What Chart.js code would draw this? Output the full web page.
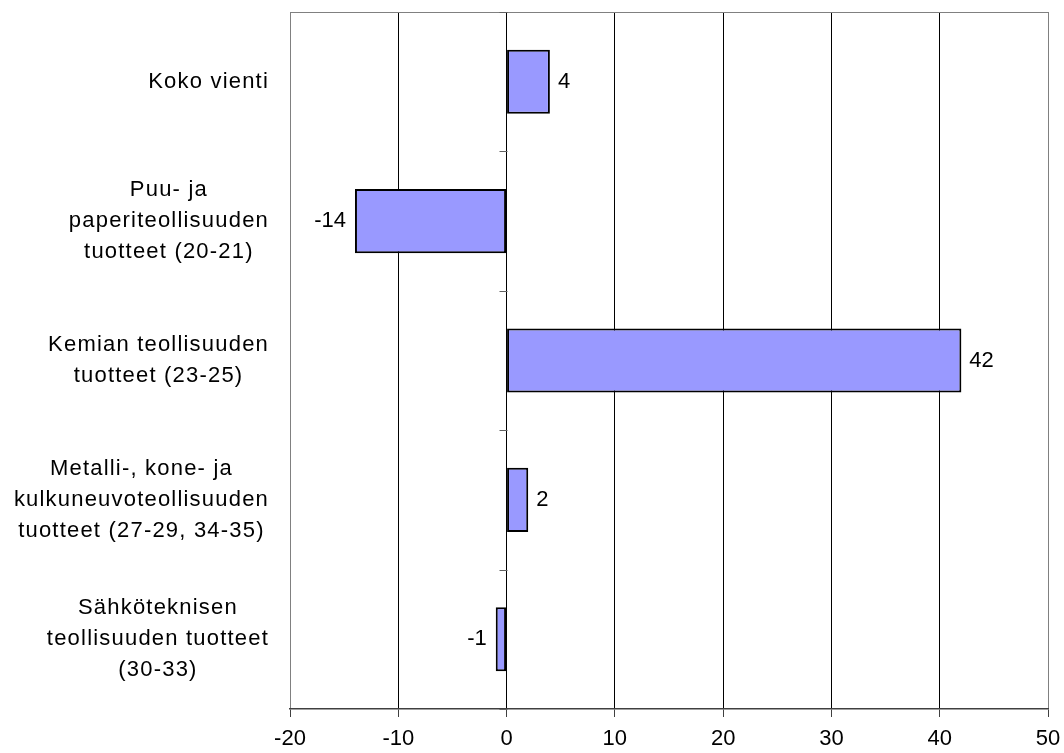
<!DOCTYPE html>
<html>
<head>
<meta charset="utf-8">
<script src="https://cdn.jsdelivr.net/npm/chart.js@4/dist/chart.umd.min.js"></script>
<style>
  html, body { margin: 0; padding: 0; background: #ffffff; }
  #wrap { width: 1064px; height: 753px; }
</style>
</head>
<body>
<div id="wrap"><canvas id="c" width="1064" height="753"></canvas></div>
<script>
const categories = [
  ["Koko vienti"],
  ["Puu- ja", "paperiteollisuuden", "tuotteet (20-21)"],
  ["Kemian teollisuuden", "tuotteet (23-25)"],
  ["Metalli-, kone- ja", "kulkuneuvoteollisuuden", "tuotteet (27-29, 34-35)"],
  ["Sähköteknisen", "teollisuuden tuotteet", "(30-33)"]
];
const values = [4, -14, 42, 2, -1];
const xTicks = [-20, -10, 0, 10, 20, 30, 40, 50];

const FONT = '"Liberation Sans", Arial, sans-serif';
const FONT_SIZE = 22;

const decorPlugin = {
  id: 'decor',
  beforeDatasetsDraw(chart) {
    const ctx = chart.ctx;
    const a = chart.chartArea;
    const xs = chart.scales.x;
    ctx.save();
    ctx.strokeStyle = '#808080';
    ctx.lineWidth = 1;
    ctx.beginPath();
    ctx.moveTo(a.left, a.top + 0.5);
    ctx.lineTo(a.right, a.top + 0.5);
    ctx.stroke();
    const x0 = Math.round(xs.getPixelForValue(0)) + 0.5;
    const n = categories.length;
    ctx.strokeStyle = '#606060';
    for (let i = 0; i <= n; i++) {
      const y = Math.round(a.top + i * (a.bottom - a.top) / n) + 0.5;
      ctx.beginPath();
      ctx.moveTo(x0 - 8, y);
      ctx.lineTo(x0, y);
      ctx.stroke();
    }
    ctx.restore();
  },
  afterDatasetsDraw(chart) {
    const ctx = chart.ctx;
    const meta = chart.getDatasetMeta(0);
    const ys = chart.scales.y;
    ctx.save();
    ctx.font = FONT_SIZE + 'px ' + FONT;
    ctx.fillStyle = '#000';
    ctx.textBaseline = 'middle';
    meta.data.forEach((bar, i) => {
      const v = values[i];
      if (v >= 0) {
        ctx.textAlign = 'left';
        ctx.fillText(String(v), bar.x + 8, bar.y);
      } else {
        ctx.textAlign = 'right';
        ctx.fillText(String(v), bar.x - 9, bar.y);
      }
    });
    const blockRight = 269;
    const lh = 31;
    ctx.letterSpacing = '1.2px';
    ctx.textAlign = 'center';
    categories.forEach((lines, i) => {
      const y = ys.getPixelForValue(i);
      let maxW = 0;
      lines.forEach(l => { maxW = Math.max(maxW, ctx.measureText(l).width); });
      const cx = blockRight - maxW / 2;
      lines.forEach((l, j) => {
        ctx.fillText(l, cx, y + (j - (lines.length - 1) / 2) * lh);
      });
    });
    ctx.restore();
  }
};

new Chart(document.getElementById('c'), {
  type: 'bar',
  data: {
    labels: categories.map(c => c.join(' ')),
    datasets: [{
      data: values,
      backgroundColor: '#9999FF',
      borderColor: '#000000',
      borderWidth: 2,
      borderSkipped: false,
      barPercentage: 0.46,
      categoryPercentage: 1.0
    }]
  },
  options: {
    indexAxis: 'y',
    responsive: false,
    animation: false,
    devicePixelRatio: 1,
    layout: { padding: { top: 12, right: 16, left: 0, bottom: 0 } },
    plugins: {
      legend: { display: false },
      tooltip: { enabled: false },
      title: { display: false }
    },
    scales: {
      x: {
        type: 'linear',
        min: -20,
        max: 50,
        afterBuildTicks: s => { s.ticks = xTicks.map(v => ({ value: v })); },
        afterFit: s => { s.height = 44; s.paddingLeft = 0; s.paddingRight = 0; },
        ticks: {
          color: '#000',
          font: { family: FONT, size: FONT_SIZE },
          padding: 9,
          maxRotation: 0
        },
        grid: {
          color: c => (c.tick && (c.tick.value === -20 || c.tick.value === 50)) ? '#808080' : '#000000',
          lineWidth: 1,
          tickLength: 8,
          tickColor: '#404040',
          drawTicks: true
        },
        border: { display: true, color: '#404040', width: 1.5 }
      },
      y: {
        type: 'category',
        afterFit: s => { s.width = 290; },
        ticks: { display: false },
        grid: { display: false, drawTicks: false },
        border: { display: false }
      }
    }
  },
  plugins: [decorPlugin]
});
</script>
</body>
</html>
